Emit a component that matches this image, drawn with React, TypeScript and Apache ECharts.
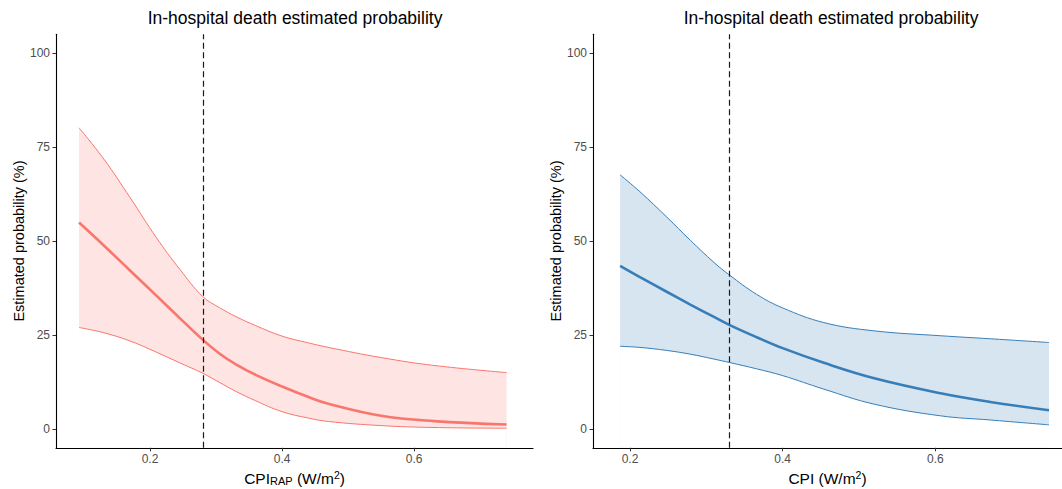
import React, { useEffect, useRef } from "react";
import * as echarts from "echarts";

// ---- data ----
const leftX = [0.0925, 0.13, 0.17, 0.21, 0.245, 0.28, 0.305, 0.33, 0.36, 0.4, 0.44, 0.47, 0.55, 0.63, 0.74];
const leftUpper = [80.1, 71.8, 61.5, 50.8, 42.5, 35.2, 32.3, 29.9, 27.5, 24.7, 22.9, 21.7, 19.0, 16.9, 15.0];
const leftFit = [54.9, 48.8, 42.1, 35.4, 29.5, 23.7, 20.1, 17.2, 14.4, 11.3, 8.5, 6.7, 3.5, 2.1, 1.2];
const leftLower = [27.0, 25.6, 23.4, 20.4, 17.6, 14.8, 12.4, 10.0, 7.5, 4.6, 2.9, 2.0, 0.9, 0.4, 0.2];

const rightX = [0.187, 0.213, 0.248, 0.279, 0.31, 0.33, 0.366, 0.4, 0.454, 0.52, 0.607, 0.672, 0.749];
const rightUpper = [67.6, 63.1, 56.4, 50.2, 44.3, 41.0, 35.8, 32.2, 28.3, 26.1, 24.8, 24.0, 23.0];
const rightFit = [43.4, 40.4, 36.5, 33.1, 29.8, 27.7, 24.4, 21.5, 17.6, 13.5, 9.5, 7.2, 5.0];
const rightLower = [22.0, 21.7, 20.9, 19.9, 18.6, 17.7, 16.0, 14.2, 10.6, 6.6, 3.5, 2.4, 1.1];

const leftCutoff = 0.28;
const rightCutoff = 0.33;

const yTicks = [0, 25, 50, 75, 100];
const xTicks = [0.2, 0.4, 0.6];

const titleText = "In-hospital death estimated probability";
const yTitle = "Estimated probability (%)";

const FONT = "'Liberation Sans', Arial, Helvetica, sans-serif";

const zip = (xs: number[], ys: number[]) => xs.map((x, i) => [x, ys[i]]);

function panelSeries(
  idx: number,
  xs: number[],
  up: number[],
  fit: number[],
  lo: number[],
  color: string,
  fill: string,
  cutoff: number
) {
  const common = {
    type: "line",
    xAxisIndex: idx,
    yAxisIndex: idx,
    symbol: "none",
    smooth: 0.4,
    silent: true,
  };
  return [
    // band fill: upper curve filled down to axis start, then covered under the lower curve
    {
      ...common,
      name: "bandTop" + idx,
      data: zip(xs, up),
      lineStyle: { opacity: 0 },
      areaStyle: { color: fill, opacity: 1, origin: "start" },
      z: 1,
    },
    {
      ...common,
      name: "bandCut" + idx,
      data: zip(xs, lo),
      lineStyle: { opacity: 0 },
      areaStyle: { color: "#ffffff", opacity: 1, origin: "start" },
      z: 2,
    },
    {
      ...common,
      name: "upper" + idx,
      data: zip(xs, up),
      lineStyle: { color, width: 1 },
      z: 3,
    },
    {
      ...common,
      name: "lower" + idx,
      data: zip(xs, lo),
      lineStyle: { color, width: 1 },
      z: 3,
    },
    {
      ...common,
      name: "fit" + idx,
      data: zip(xs, fit),
      lineStyle: { color, width: 2.6 },
      z: 4,
      markLine: {
        silent: true,
        z: 6,
        symbol: ["none", "none"],
        label: { show: false },
        lineStyle: { color: "#1a1a1a", width: 1.2, type: [6, 3.5] },
        data: [{ xAxis: cutoff }],
      },
    },
  ];
}

function xAxisCfg(idx: number, min: number, max: number, nameRich: string) {
  return {
    type: "value",
    gridIndex: idx,
    min,
    max,
    z: 10,
    axisLine: { show: true, onZero: false, lineStyle: { color: "#000", width: 1.1 } },
    axisTick: { show: true, length: 3.5, lineStyle: { color: "#333", width: 1 }, customValues: xTicks },
    axisLabel: {
      color: "#4D4D4D",
      fontSize: 12,
      fontFamily: FONT,
      margin: 5,
      customValues: xTicks,
      formatter: (v: number) => v.toFixed(1),
    },
    splitLine: { show: false },
    name: nameRich,
    nameLocation: "middle",
    nameGap: 19,
    nameTextStyle: {
      color: "#000",
      fontSize: 15.5,
      fontFamily: FONT,
      rich: {
        a: { fontSize: 15.5, fontFamily: FONT, color: "#000" },
        sub: { fontSize: 11, fontFamily: FONT, color: "#000", verticalAlign: "bottom", padding: [6, 0, 0, 0] },
        sup: { fontSize: 10.5, fontFamily: FONT, color: "#000", verticalAlign: "top", padding: [0, 0, 6, 0] },
      },
    },
  };
}

function yAxisCfg(idx: number) {
  return {
    type: "value",
    gridIndex: idx,
    min: -5,
    max: 105,
    z: 10,
    axisLine: { show: true, onZero: false, lineStyle: { color: "#000", width: 1.1 } },
    axisTick: { show: true, length: 3.5, lineStyle: { color: "#333", width: 1 }, customValues: yTicks },
    axisLabel: {
      color: "#4D4D4D",
      fontSize: 12,
      fontFamily: FONT,
      margin: 6,
      customValues: yTicks,
    },
    splitLine: { show: false },
  };
}

export default function App() {
  const ref = useRef<HTMLDivElement>(null);
  useEffect(() => {
    if (!ref.current) return;
    const chart = echarts.init(ref.current, undefined, { renderer: "svg" });
    const option: any = {
      animation: false,
      backgroundColor: "#fff",
      grid: [
        { left: 56, top: 34.2, width: 477, height: 413.6, outerBoundsMode: "none", containLabel: false },
        { left: 593, top: 34.2, width: 469, height: 413.6, outerBoundsMode: "none", containLabel: false },
      ],
      xAxis: [
        xAxisCfg(0, 0.0576, 0.78, "{a|CPI}{sub|RAP}{a| (W/m}{sup|2}{a|)}"),
        xAxisCfg(1, 0.1515, 0.766, "{a|CPI (W/m}{sup|2}{a|)}"),
      ],
      yAxis: [yAxisCfg(0), yAxisCfg(1)],
      series: [
        ...panelSeries(0, leftX, leftUpper, leftFit, leftLower, "#F8766D", "#FEE4E2", leftCutoff),
        ...panelSeries(1, rightX, rightUpper, rightFit, rightLower, "#377EB8", "#D7E5F1", rightCutoff),
      ],
      graphic: [
        {
          type: "text",
          x: 295,
          y: 18,
          style: { text: titleText, fill: "#000", font: `17.5px ${FONT}`, textAlign: "center", textVerticalAlign: "middle" },
        },
        {
          type: "text",
          x: 831,
          y: 18,
          style: { text: titleText, fill: "#000", font: `17.5px ${FONT}`, textAlign: "center", textVerticalAlign: "middle" },
        },
        {
          type: "text",
          x: 19,
          y: 241,
          rotation: Math.PI / 2,
          style: { text: yTitle, fill: "#000", font: `14.5px ${FONT}`, textAlign: "center", textVerticalAlign: "middle" },
        },
        {
          type: "text",
          x: 556,
          y: 241,
          rotation: Math.PI / 2,
          style: { text: yTitle, fill: "#000", font: `14.5px ${FONT}`, textAlign: "center", textVerticalAlign: "middle" },
        },
      ],
    };
    chart.setOption(option);
    return () => chart.dispose();
  }, []);
  return (
    <div
      ref={ref}
      style={{ position: "fixed", left: 0, top: 0, width: 1062, height: 489, background: "#fff" }}
    />
  );
}
